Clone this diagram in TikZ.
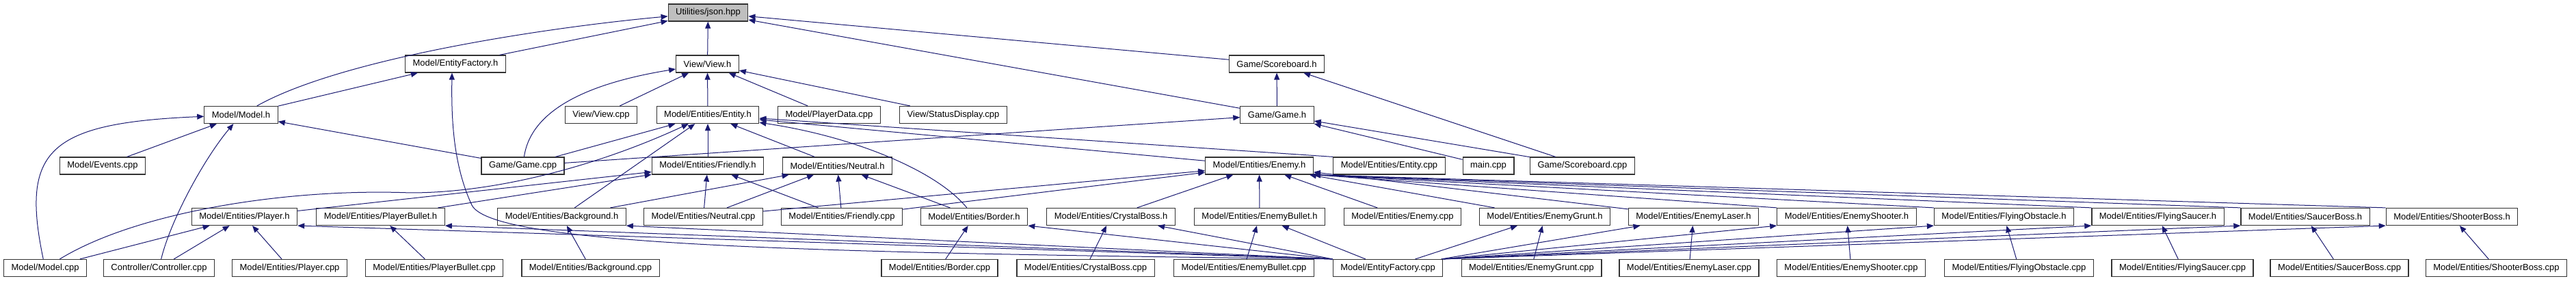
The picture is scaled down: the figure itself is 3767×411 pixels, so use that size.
\documentclass[tikz,border=0pt]{standalone}
\usepackage{fontspec}
\setmainfont{Liberation Sans}
\usetikzlibrary{arrows.meta}
\definecolor{edgeblue}{HTML}{191970}
\definecolor{rootgray}{HTML}{BFBFBF}

\begin{document}
\begin{tikzpicture}[
   x=1pt,y=-1pt,
   file/.style={draw=black!80,line width=1.2pt,fill=white,inner xsep=11pt,inner ysep=0pt,minimum height=25pt},
   root/.style={file,fill=rootgray},
   incl/.style={draw=edgeblue,line width=1pt,-{Triangle[length=10pt,width=8pt]}},
   every node/.style={font=\fontsize{13}{15}\selectfont}
 ]
  \useasboundingbox (0,0) rectangle (3767,411);
  % top
  \node[root] (json) at (1035.5,18.5) {Utilities/json.hpp};
  % second row
  \node[file] (factoryh) at (666,93.5) {Model/EntityFactory.h};
  \node[file] (viewh) at (1034.5,93.5) {View/View.h};
  \node[file] (scoreh) at (1867,93.5) {Game/Scoreboard.h};
  % third row
  \node[file] (modelh) at (352.5,168) {Model/Model.h};
  \node[file] (viewcpp) at (879,168) {View/View.cpp};
  \node[file] (entityh) at (1035,168) {Model/Entities/Entity.h};
  \node[file] (playerdata) at (1212.5,168) {Model/PlayerData.cpp};
  \node[file] (statuscpp) at (1394,168) {View/StatusDisplay.cpp};
  \node[file] (gameh) at (1867.5,168) {Game/Game.h};
  % fourth row
  \node[file] (eventscpp) at (150,242.5) {Model/Events.cpp};
  \node[file] (gamecpp) at (764.5,242.5) {Game/Game.cpp};
  \node[file] (friendlyh) at (1035,242.5) {Model/Entities/Friendly.h};
  \node[file] (neutralh) at (1224.5,242.5) {Model/Entities/Neutral.h};
  \node[file] (enemyh) at (1841.5,242.5) {Model/Entities/Enemy.h};
  \node[file] (entitycpp) at (2031.5,242.5) {Model/Entities/Entity.cpp};
  \node[file] (maincpp) at (2176.5,242.5) {main.cpp};
  \node[file] (scorecpp) at (2314,242.5) {Game/Scoreboard.cpp};
  % fifth row
  \node[file] (playerh) at (357.5,317) {Model/Entities/Player.h};
  \node[file] (pbulleth) at (556.5,317) {Model/Entities/PlayerBullet.h};
  \node[file] (backh) at (821.5,317) {Model/Entities/Background.h};
  \node[file] (neutralcpp) at (1028.5,317) {Model/Entities/Neutral.cpp};
  \node[file] (friendlycpp) at (1231,317) {Model/Entities/Friendly.cpp};
  \node[file] (borderh) at (1424.5,317) {Model/Entities/Border.h};
  \node[file] (crystalh) at (1624.5,317) {Model/Entities/CrystalBoss.h};
  \node[file] (ebulleth) at (1842,317) {Model/Entities/EnemyBullet.h};
  \node[file] (enemycpp) at (2051,317) {Model/Entities/Enemy.cpp};
  \node[file] (grunth) at (2259,317) {Model/Entities/EnemyGrunt.h};
  \node[file] (laserh) at (2476.5,317) {Model/Entities/EnemyLaser.h};
  \node[file] (shooterh) at (2700.5,317) {Model/Entities/EnemyShooter.h};
  \node[file] (obstacleh) at (2930.5,317) {Model/Entities/FlyingObstacle.h};
  \node[file] (saucerh) at (3155.5,317) {Model/Entities/FlyingSaucer.h};
  \node[file] (sbossh) at (3371,317) {Model/Entities/SaucerBoss.h};
  \node[file] (shbossh) at (3585.5,317) {Model/Entities/ShooterBoss.h};
  % bottom row
  \node[file] (modelcpp) at (66,392) {Model/Model.cpp};
  \node[file] (controllercpp) at (232.5,392) {Controller/Controller.cpp};
  \node[file] (playercpp) at (423.5,392) {Model/Entities/Player.cpp};
  \node[file] (pbulletcpp) at (635,392) {Model/Entities/PlayerBullet.cpp};
  \node[file] (backcpp) at (863.5,392) {Model/Entities/Background.cpp};
  \node[file] (bordercpp) at (1374,392) {Model/Entities/Border.cpp};
  \node[file] (crystalcpp) at (1587.5,392) {Model/Entities/CrystalBoss.cpp};
  \node[file] (ebulletcpp) at (1819,392) {Model/Entities/EnemyBullet.cpp};
  \node[file] (factorycpp) at (2029.5,392) {Model/EntityFactory.cpp};
  \node[file] (gruntcpp) at (2239.5,392) {Model/Entities/EnemyGrunt.cpp};
  \node[file] (lasercpp) at (2470,392) {Model/Entities/EnemyLaser.cpp};
  \node[file] (shootercpp) at (2707,392) {Model/Entities/EnemyShooter.cpp};
  \node[file] (obstaclecpp) at (2952.5,392) {Model/Entities/FlyingObstacle.cpp};
  \node[file] (saucercpp) at (3191.5,392) {Model/Entities/FlyingSaucer.cpp};
  \node[file] (sbosscpp) at (3421,392) {Model/Entities/SaucerBoss.cpp};
  \node[file] (shbosscpp) at (3650.5,392) {Model/Entities/ShooterBoss.cpp};
  % includes of json.hpp
  \draw[incl] (modelh) .. controls (500,85) and (800,40) .. (json);
  \draw[incl] (factoryh) -- (json);
  \draw[incl] (viewh) -- (json);
  \draw[incl] (scoreh) -- (json);
  \draw[incl] (gameh) -- (json);
  % model and factory
  \draw[incl] (modelh) -- (factoryh);
  \draw[incl] (factorycpp.north west) .. controls (1200,370) and (720,360) .. (690,300)
     .. controls (662,240) and (660,170) .. ([xshift=-5pt]factoryh.south);
  \draw[incl] (modelcpp) .. controls (30,220) and (70,180) .. (modelh);
  \draw[incl] (eventscpp) -- (modelh);
  \draw[incl] (controllercpp) .. controls (250,320) and (300,230) .. (modelh);
  \draw[incl] (gamecpp) -- (modelh);
  % view
  \draw[incl] (gamecpp) .. controls (775,170) and (840,125) .. (viewh);
  \draw[incl] (viewcpp) -- (viewh);
  \draw[incl] (entityh) -- (viewh);
  \draw[incl] (playerdata) -- (viewh);
  \draw[incl] (statuscpp) -- (viewh);
  % game
  \draw[incl] (gameh) -- (scoreh);
  \draw[incl] (scorecpp) -- (scoreh);
  \draw[incl] (gamecpp) -- (gameh);
  \draw[incl] (maincpp) -- (gameh);
  \draw[incl] (scorecpp) -- (gameh);
  % entity
  \draw[incl] (gamecpp) -- (entityh);
  \draw[incl] (modelcpp) .. controls (200,310) and (420,275) .. (600,282)
     .. controls (730,282) and (880,240) .. (entityh);
  \draw[incl] (backh) -- (entityh);
  \draw[incl] (friendlyh) -- (entityh);
  \draw[incl] (neutralh) -- (entityh);
  \draw[incl] (borderh) .. controls (1370,250) and (1250,200) .. (entityh);
  \draw[incl] (enemyh) -- (entityh);
  \draw[incl] (entitycpp.north west) -- (entityh);
  % friendly and neutral
  \draw[incl] (playerh) -- (friendlyh);
  \draw[incl] (pbulleth) -- (friendlyh);
  \draw[incl] (neutralcpp) -- (friendlyh);
  \draw[incl] (friendlycpp) -- (friendlyh);
  \draw[incl] (backh) -- (neutralh);
  \draw[incl] (neutralcpp) -- (neutralh);
  \draw[incl] (friendlycpp) -- (neutralh);
  \draw[incl] (borderh) -- (neutralh);
  % enemy
  \draw[incl] (neutralcpp) -- (enemyh);
  \draw[incl] (friendlycpp) -- (enemyh);
  \draw[incl] (crystalh) -- (enemyh);
  \draw[incl] (ebulleth) -- (enemyh);
  \draw[incl] (enemycpp) -- (enemyh);
  \draw[incl] (grunth) -- (enemyh);
  \draw[incl] (laserh) -- (enemyh);
  \draw[incl] (shooterh.north west) -- (enemyh.south east);
  \draw[incl] (obstacleh.north west) -- (enemyh.south east);
  \draw[incl] (saucerh.north west) -- (enemyh.south east);
  \draw[incl] (sbossh.north west) -- (enemyh.south east);
  \draw[incl] (shbossh.north west) -- (enemyh.south east);
  % entity factory
  \draw[incl] (factorycpp.north west) -- (playerh.south east);
  \draw[incl] (factorycpp.north west) -- (pbulleth.south east);
  \draw[incl] (factorycpp.north west) -- (backh.south east);
  \draw[incl] (factorycpp.north west) -- (borderh.south east);
  \draw[incl] (factorycpp.north west) -- (crystalh);
  \draw[incl] (factorycpp) -- (ebulleth);
  \draw[incl] (factorycpp) -- (grunth);
  \draw[incl] (factorycpp) -- (laserh);
  \draw[incl] (factorycpp.north east) -- (shooterh.south west);
  \draw[incl] (factorycpp.north east) -- (obstacleh.south west);
  \draw[incl] (factorycpp.north east) -- (saucerh.south west);
  \draw[incl] (factorycpp.north east) -- (sbossh.south west);
  \draw[incl] (factorycpp.north east) -- (shbossh.south west);
  % sources to their headers
  \draw[incl] (modelcpp) -- (playerh);
  \draw[incl] (controllercpp) -- (playerh);
  \draw[incl] (playercpp) -- (playerh);
  \draw[incl] (pbulletcpp) -- (pbulleth);
  \draw[incl] (backcpp) -- (backh);
  \draw[incl] (bordercpp) -- (borderh);
  \draw[incl] (crystalcpp) -- (crystalh);
  \draw[incl] (ebulletcpp) -- (ebulleth);
  \draw[incl] (gruntcpp) -- (grunth);
  \draw[incl] (lasercpp) -- (laserh);
  \draw[incl] (shootercpp) -- (shooterh);
  \draw[incl] (obstaclecpp) -- (obstacleh);
  \draw[incl] (saucercpp) -- (saucerh);
  \draw[incl] (sbosscpp) -- (sbossh);
  \draw[incl] (shbosscpp) -- (shbossh);
\end{tikzpicture}
\end{document}
